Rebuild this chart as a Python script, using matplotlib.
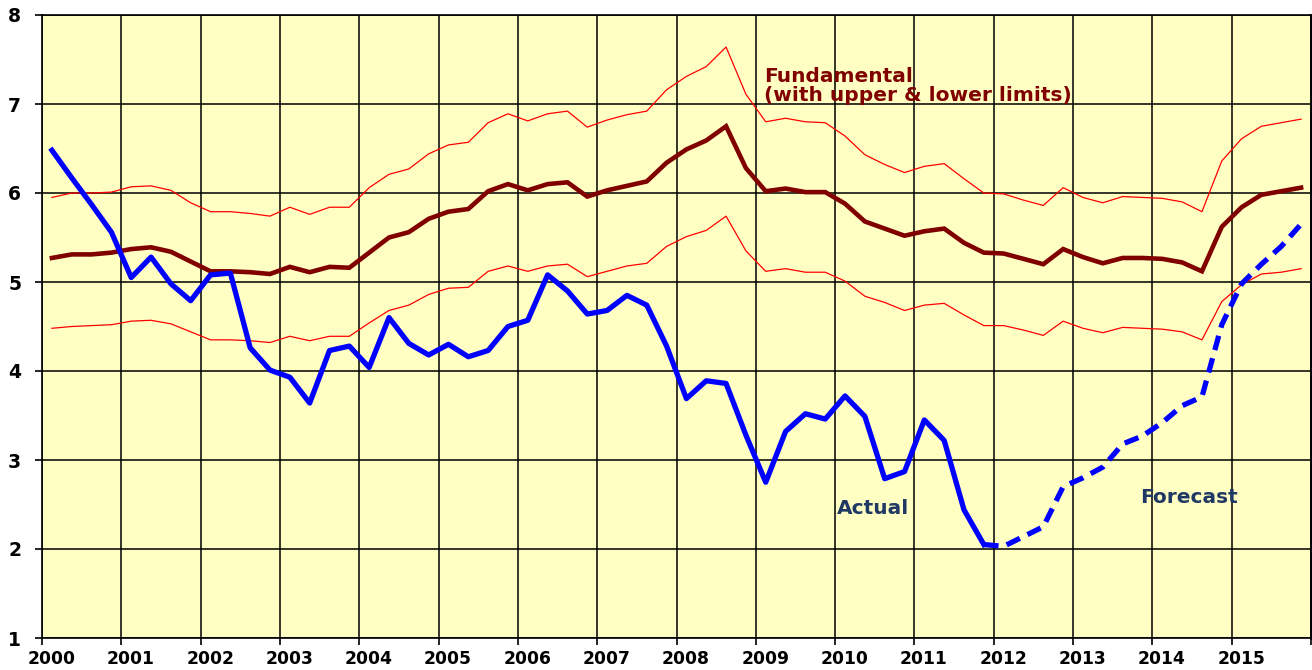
import numpy as np
import matplotlib
matplotlib.use("Agg")
import matplotlib.pyplot as plt

plt.rcParams['font.family'] = ['DejaVu Sans']
plt.rcParams['font.weight'] = 'bold'

# quarterly values, 2000Q1 .. 2015Q4
quarters = np.arange(2000.125, 2016, 0.25)

actual = [6.48, 6.17, 5.87, 5.56, 5.05, 5.28, 4.98, 4.79, 5.08, 5.10,
          4.26, 4.01, 3.93, 3.64, 4.23, 4.28, 4.04, 4.60, 4.31, 4.18,
          4.30, 4.16, 4.23, 4.50, 4.57, 5.08, 4.90, 4.64, 4.68, 4.85,
          4.74, 4.28, 3.69, 3.89, 3.86, 3.28, 2.75, 3.32, 3.52, 3.46,
          3.72, 3.49, 2.79, 2.87, 3.45, 3.22, 2.44, 2.05]

forecast = [2.05, 2.03, 2.14, 2.25, 2.70, 2.80, 2.92, 3.18, 3.27, 3.42,
            3.61, 3.71, 4.52, 4.98, 5.20, 5.40, 5.65]

fundamental = [5.27, 5.31, 5.31, 5.33, 5.37, 5.39, 5.34, 5.23, 5.12, 5.12,
               5.11, 5.09, 5.17, 5.11, 5.17, 5.16, 5.33, 5.50, 5.56, 5.71,
               5.79, 5.82, 6.02, 6.10, 6.03, 6.10, 6.12, 5.96, 6.03, 6.08,
               6.13, 6.34, 6.49, 6.59, 6.75, 6.28, 6.02, 6.05, 6.01, 6.01,
               5.88, 5.68, 5.60, 5.52, 5.57, 5.60, 5.44, 5.33, 5.32, 5.26,
               5.20, 5.37, 5.28, 5.21, 5.27, 5.27, 5.26, 5.22, 5.12, 5.62,
               5.84, 5.98, 6.02, 6.06]

upper = [5.95, 6.00, 6.00, 6.01, 6.07, 6.08, 6.03, 5.89, 5.79, 5.79,
         5.77, 5.74, 5.84, 5.76, 5.84, 5.84, 6.06, 6.21, 6.27, 6.44,
         6.54, 6.57, 6.79, 6.89, 6.81, 6.89, 6.92, 6.74, 6.82, 6.88,
         6.92, 7.16, 7.31, 7.42, 7.64, 7.11, 6.80, 6.84, 6.80, 6.79,
         6.64, 6.43, 6.32, 6.23, 6.30, 6.33, 6.16, 6.00, 5.99, 5.92,
         5.86, 6.06, 5.95, 5.89, 5.96, 5.95, 5.94, 5.90, 5.79, 6.36,
         6.61, 6.75, 6.79, 6.83]

lower = [4.48, 4.50, 4.51, 4.52, 4.56, 4.57, 4.53, 4.44, 4.35, 4.35,
         4.34, 4.32, 4.39, 4.34, 4.39, 4.39, 4.54, 4.68, 4.74, 4.86,
         4.93, 4.94, 5.12, 5.18, 5.12, 5.18, 5.20, 5.06, 5.12, 5.18,
         5.21, 5.40, 5.51, 5.58, 5.74, 5.35, 5.12, 5.15, 5.11, 5.11,
         5.01, 4.84, 4.77, 4.68, 4.74, 4.76, 4.63, 4.51, 4.51, 4.46,
         4.40, 4.56, 4.48, 4.43, 4.49, 4.48, 4.47, 4.44, 4.35, 4.78,
         4.97, 5.09, 5.11, 5.15]

years = list(range(2000, 2016))

fig = plt.figure(figsize=(13.12, 6.70), dpi=100)
ax = fig.add_axes([42 / 1312, 32 / 670, 1269 / 1312, 623 / 670])
ax.set_facecolor('#FFFFC4')

n_act = len(actual)
ax.plot(quarters, upper, color='#FF0000', lw=0.9, zorder=3)
ax.plot(quarters, lower, color='#FF0000', lw=0.9, zorder=3)
ax.plot(quarters, fundamental, color='#800000', lw=3.3, zorder=4,
        solid_joinstyle='miter')
ax.plot(quarters[:n_act], actual, color='#0000FF', lw=3.8, zorder=5)
ax.plot(quarters[n_act - 1:], forecast, color='#0000FF', lw=3.8,
        dashes=(2.8, 1.6), zorder=5)

ax.set_xlim(2000, 2016)
ax.set_ylim(1, 8)
ax.set_xticks(years + [2016])
ax.set_xticklabels([])
ax.set_xticks([y + 0.12 for y in years], minor=True)
ax.set_xticklabels([str(y) for y in years], minor=True)
ax.tick_params(axis='x', which='minor', length=0, pad=9, labelsize=12.3)
ax.tick_params(axis='x', which='major', length=5, width=1.2, direction='out')
ax.set_yticks(range(1, 9))
ax.tick_params(axis='y', length=5, width=1.2, direction='out', pad=10,
               labelsize=13.5)
ax.grid(True, which='major', color='black', lw=1.1)
for s in ['left', 'bottom', 'top']:
    ax.spines[s].set_linewidth(1.2)
ax.spines['right'].set_linewidth(2)

ax.text(2009.1, 7.2, 'Fundamental\n(with upper & lower limits)',
        color='#800000', fontsize=14.5, fontweight='bold', va='center',
        linespacing=1.0, zorder=6)
ax.text(2010.02, 2.46, 'Actual', color='#1F3864', fontsize=14.5,
        fontweight='bold', va='center', zorder=6)
ax.text(2013.85, 2.58, 'Forecast', color='#1F3864', fontsize=14.5,
        fontweight='bold', va='center', zorder=6)

fig.savefig('out.png', dpi=100)
